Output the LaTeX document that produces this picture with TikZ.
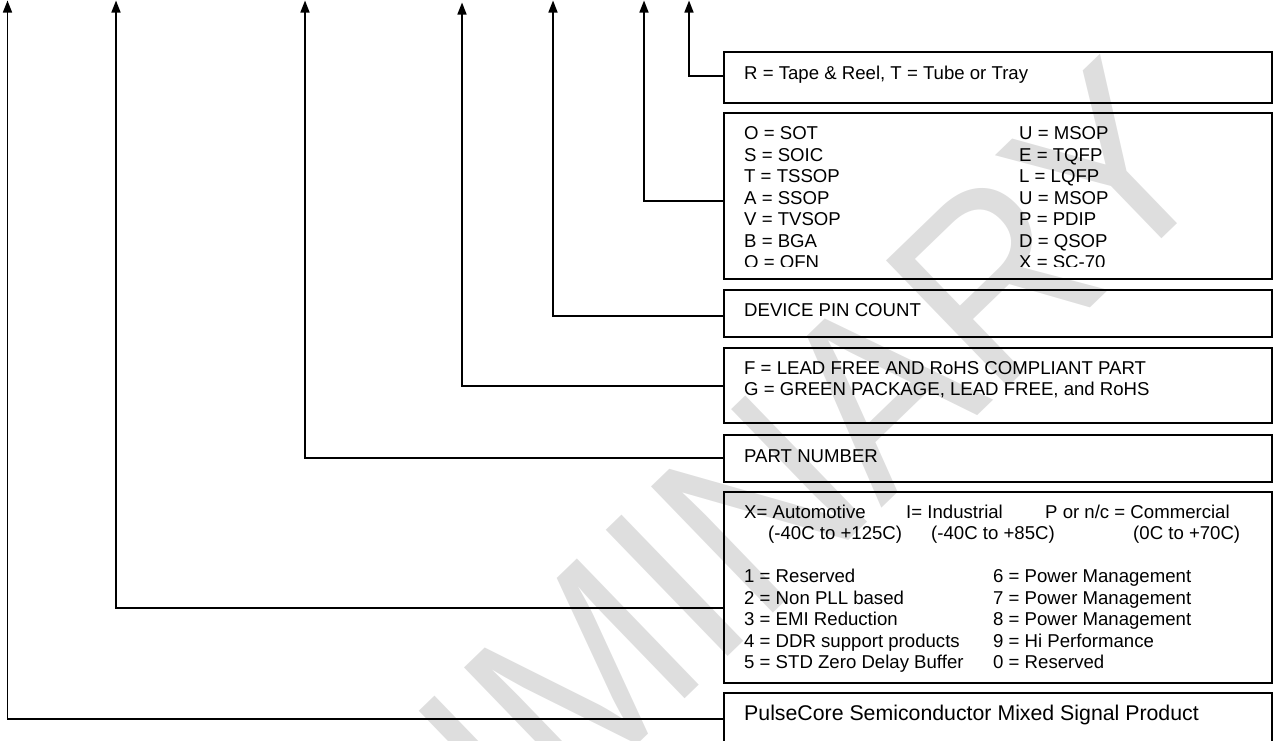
\documentclass[tikz,border=0pt]{standalone}
\usepackage{fontspec}
\setmainfont{Liberation Sans}
\usetikzlibrary{arrows.meta}
\definecolor{wm}{RGB}{222,222,222}
\begin{document}
\begin{tikzpicture}[x=1pt,y=-1pt,
  box/.style={draw, line width=1.5pt, minimum width=548pt, anchor=north west, inner sep=0pt},
  txt/.style={anchor=base west, inner sep=0pt, font=\fontsize{18.6}{21.5}\selectfont},
  bigtxt/.style={anchor=base west, inner sep=0pt, font=\fontsize{21.3}{24}\selectfont},
  conn/.style={line width=1.6pt, -{Triangle[width=9pt,length=12pt]}},
  wmark/.style={anchor=base west, inner sep=0pt, text=wm, rotate=44, xscale=0.92, font=\fontsize{255}{255}\selectfont}
]
\path[use as bounding box] (0,0) rectangle (1273,740);
% watermark
\begin{scope}
  \clip (0,0) rectangle (1273,740);
  \node[wmark] (wm) at (84.5,1278.7) {PRELIMINARY};
\end{scope}

% boxes
\node[box, minimum height=51pt]  (bR) at (723,51)  {};
\node[box, minimum height=166pt] (bP) at (723,112) {};
\node[box, minimum height=47pt]  (bC) at (723,289) {};
\node[box, minimum height=75pt]  (bL) at (723,347) {};
\node[box, minimum height=47pt]  (bN) at (723,434) {};
\node[box, minimum height=191pt] (bT) at (723,491) {};
\node[box, minimum height=52pt]  (bS) at (723,692) {};

% arrow tips
\coordinate (tR) at (689,0.5);
\coordinate (tP) at (644,0.5);
\coordinate (tC) at (553,0.5);
\coordinate (tL) at (462,2.5);
\coordinate (tN) at (305,0.5);
\coordinate (tT) at (116,0.5);
\coordinate (tS) at (7.5,0.5);

% connectors
\draw[conn] ([yshift=1.5pt]bR.west) -| (tR);
\draw[conn] ([yshift=-5pt]bP.west) -| (tP);
\draw[conn] ([yshift=-3pt]bC.west) -| (tC);
\draw[conn] ([yshift=-0.5pt]bL.west) -| (tL);
\draw[conn] (bN.west) -| (tN);
\draw[conn] ([yshift=-21pt]bT.west) -| (tT);
\draw[conn] (bS.west) -| (tS);

% texts
\node[txt] (tx-r) at (744,79.3) {R = Tape \& Reel, T = Tube or Tray};

\begin{scope}
  \clip (723,112) rectangle (1272,266.5);
  \foreach \t [count=\i from 0] in {O = SOT, S = SOIC, T = TSSOP, A = SSOP, V = TVSOP, B = BGA, Q = QFN}
    \node[txt] (pl\i) at (744,139.6+21.5*\i) {\t};
  \foreach \t [count=\i from 0] in {U = MSOP, E = TQFP, L = LQFP, U = MSOP, P = PDIP, D = QSOP, X = SC-70}
    \node[txt] (pr\i) at (1019,139.6+21.5*\i) {\t};
\end{scope}

\node[txt] (tx-c) at (744,316.6) {DEVICE PIN COUNT};
\node[txt] (tx-l1) at (744,374.8) {F = LEAD FREE AND RoHS COMPLIANT PART};
\node[txt] (tx-l2) at (744,395.6) {G = GREEN PACKAGE, LEAD FREE, and RoHS};
\node[txt] (tx-n) at (744,462.3) {PART NUMBER};

\node[txt] (ta1) at (744,518.3) {X= Automotive};
\node[txt] (ta2) at (768,539.3) {(-40C to +125C)};
\node[txt] (ti1) at (906,518.3) {I= Industrial};
\node[txt] (ti2) at (931,539.3) {(-40C to +85C)};
\node[txt] (tc1) at (1045,518.3) {P or n/c = Commercial};
\node[txt] (tc2) at (1133,539.3) {(0C to +70C)};

\foreach \t [count=\i from 0] in {1 = Reserved, 2 = Non PLL based, 3 = EMI Reduction, 4 = DDR support products, 5 = STD Zero Delay Buffer}
  \node[txt] (fl\i) at (744,582.6+21.5*\i) {\t};
\foreach \t [count=\i from 0] in {6 = Power Management, 7 = Power Management, 8 = Power Management, 9 = Hi Performance, 0 = Reserved}
  \node[txt] (fr\i) at (993,582.6+21.5*\i) {\t};

\node[bigtxt] (tx-s) at (744,720) {PulseCore Semiconductor Mixed Signal Product};
\end{tikzpicture}
\end{document}
